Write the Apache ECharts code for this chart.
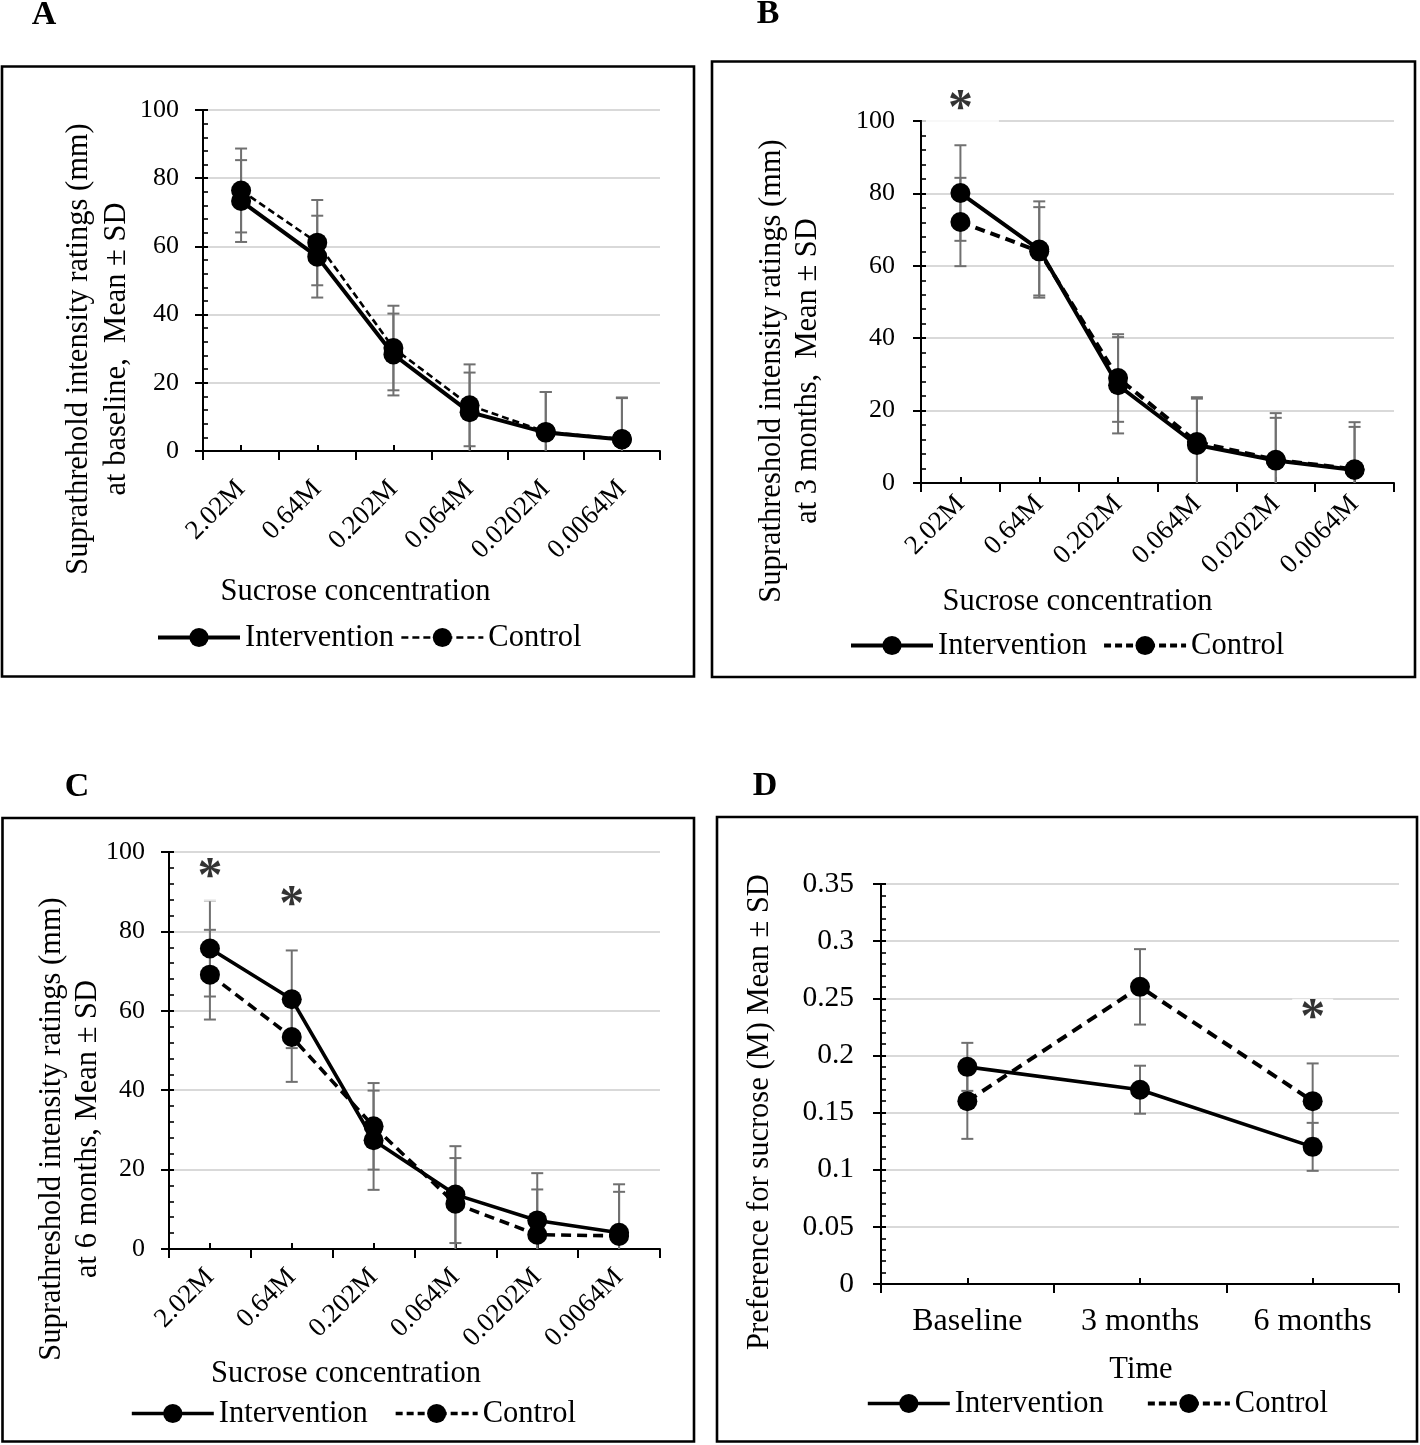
<!DOCTYPE html>
<html>
<head>
<meta charset="utf-8">
<script src="https://cdn.jsdelivr.net/npm/echarts@6/dist/echarts.min.js"></script>
<style>
html,body{margin:0;padding:0;background:#fff;}
#chart{width:1420px;height:1445px;}
</style>
</head>
<body>
<div id="chart"></div>
<script>
// ---------------- DATA ----------------
const concentrationLabels = ['2.02M', '0.64M', '0.202M', '0.064M', '0.0202M', '0.0064M'];
const timeLabels = ['Baseline', '3 months', '6 months'];
const seriesNames = ['Intervention', 'Control'];

// rating axis ticks (mm) and preference axis ticks (M)
const ratingTicks = { min: 0, max: 100, interval: 20 };
const preferenceTicks = { min: 0, max: 0.35, interval: 0.05 };

// A – baseline
const baselineIntervention   = [73.3, 57.0, 28.3, 11.4, 5.4, 3.4];
const baselineInterventionSD = [12.0, 12.0, 12.0, 11.6, 11.9, 12.3];
const baselineControl        = [76.4, 61.1, 30.2, 13.4, 5.6, 3.5];
const baselineControlSD      = [12.3, 12.5, 12.4, 12.0, 11.7, 12.0];

// B – 3 months
const month3Intervention   = [80.1, 64.5, 27.0, 10.5, 6.2, 3.6];
const month3InterventionSD = [13.2, 13.3, 13.3, 13.2, 13.1, 13.2];
const month3Control        = [72.1, 64.0, 29.0, 11.3, 6.4, 3.8];
const month3ControlSD      = [12.2, 12.2, 12.1, 12.0, 11.6, 11.7];
const month3Significance   = [[0, 103.0]];

// C – 6 months
const month6Intervention   = [75.7, 62.9, 27.4, 13.7, 7.2, 4.1];
const month6InterventionSD = [12.1, 12.3, 12.5, 12.2, 11.9, 12.2];
const month6Control        = [69.1, 53.4, 30.9, 11.4, 3.6, 3.3];
const month6ControlSD      = [11.3, 11.3, 10.9, 11.5, 11.4, 11.1];
const month6Significance   = [[0, 93.4], [1, 86.4]];

// D – preference for sucrose
const preferenceIntervention   = [0.19, 0.17, 0.12];
const preferenceInterventionSD = [0.021, 0.021, 0.021];
const preferenceControl        = [0.16, 0.26, 0.16];
const preferenceControlSD      = [0.033, 0.033, 0.033];
const preferenceSignificance   = [[2, 0.2322]];

// ---------------- LAYOUT / STYLE ----------------
const FONT = 'Liberation Serif';
const ERR = '#707070';
const GRIDLINE = '#d9d9d9';

const panels = [
  {
    letter: 'A', letterPos: [44, 15],
    box: [2, 66.5, 692, 610],
    grid: { left: 203, top: 110, width: 457, height: 341 },
    cats: concentrationLabels, ticks: ratingTicks,
    inter: baselineIntervention, interSD: baselineInterventionSD,
    ctrl: baselineControl, ctrlSD: baselineControlSD, sig: null,
    rotate: 45, xFont: 27, yFont: 26, yMargin: 24, xMargin: 34,
    solidW: 4, dashW: 2.6, dash: [7, 4],
    xTitle: 'Sucrose concentration', xTitlePos: [355.5, 592],
    yTitles: ['Suprathrehold intensity ratings (mm)', 'at baseline,  Mean \u00b1 SD'],
    yTitleX: [79, 117], yTitleY: 349,
    legend: { left: 156, cy: 637, gap: 6 }
  },
  {
    letter: 'B', letterPos: [768, 14],
    box: [712, 61.5, 703, 615.5],
    grid: { left: 921, top: 121, width: 473, height: 362 },
    cats: concentrationLabels, ticks: ratingTicks,
    inter: month3Intervention, interSD: month3InterventionSD,
    ctrl: month3Control, ctrlSD: month3ControlSD, sig: month3Significance,
    sigPad: [4, 26, 4, 26],
    rotate: 45, xFont: 27, yFont: 26, yMargin: 26, xMargin: 17,
    solidW: 4, dashW: 4, dash: [10, 6],
    xTitle: 'Sucrose concentration', xTitlePos: [1077.5, 602],
    yTitles: ['Suprathreshold intensity ratings (mm)', 'at 3 months,  Mean \u00b1 SD'],
    yTitleX: [772, 808], yTitleY: 371,
    legend: { left: 849, cy: 645, gap: 15 }
  },
  {
    letter: 'C', letterPos: [77, 787],
    box: [2.5, 818, 691.5, 623.5],
    grid: { left: 169, top: 852, width: 491, height: 397 },
    cats: concentrationLabels, ticks: ratingTicks,
    inter: month6Intervention, interSD: month6InterventionSD,
    ctrl: month6Control, ctrlSD: month6ControlSD, sig: month6Significance,
    sigPad: [12, 20, 0, 20],
    rotate: 45, xFont: 27, yFont: 26, yMargin: 24, xMargin: 24,
    solidW: 3.6, dashW: 3.6, dash: [10, 6],
    xTitle: 'Sucrose concentration', xTitlePos: [346, 1374],
    yTitles: ['Suprathreshold intensity ratings (mm)', 'at 6 months, Mean \u00b1 SD'],
    yTitleX: [52, 88], yTitleY: 1129,
    legend: { left: 130, cy: 1413, gap: 26 }
  },
  {
    letter: 'D', letterPos: [765, 786],
    box: [717, 817, 700, 624.5],
    grid: { left: 881, top: 884, width: 518, height: 400 },
    cats: timeLabels, ticks: preferenceTicks,
    inter: preferenceIntervention, interSD: preferenceInterventionSD,
    ctrl: preferenceControl, ctrlSD: preferenceControlSD, sig: preferenceSignificance,
    sigPad: [6, 8, 0, 8],
    rotate: 0, xFont: 32, yFont: 29.5, yMargin: 27, xMargin: 22,
    solidW: 3.6, dashW: 4, dash: [11, 7],
    xTitle: 'Time', xTitlePos: [1141, 1370],
    yTitles: ['Preference for sucrose (M) Mean \u00b1 SD'],
    yTitleX: [760], yTitleY: 1112,
    legend: { left: 866, cy: 1403, gap: 42 }
  }
];

// ---------------- BUILD ----------------
function errorBarRender(params, api) {
  const x = api.value(0), m = api.value(1), sd = api.value(2);
  const loRaw = m - sd;
  const lo = Math.max(loRaw, 0);
  const pHi = api.coord([x, m + sd]);
  const pLo = api.coord([x, lo]);
  const cw = 6;
  const style = { stroke: ERR, lineWidth: 2, fill: null };
  const children = [
    { type: 'line', shape: { x1: pHi[0], y1: pHi[1], x2: pLo[0], y2: pLo[1] }, style: style },
    { type: 'line', shape: { x1: pHi[0] - cw, y1: pHi[1], x2: pHi[0] + cw, y2: pHi[1] }, style: style }
  ];
  if (loRaw > 0) {
    children.push({ type: 'line', shape: { x1: pLo[0] - cw, y1: pLo[1], x2: pLo[0] + cw, y2: pLo[1] }, style: style });
  }
  return { type: 'group', children: children };
}

const grids = [], xAxes = [], yAxes = [], series = [], legends = [], graphics = [];
const blackLine = { color: '#000', width: 2 };

panels.forEach(function (p, i) {
  grids.push(Object.assign({ containLabel: false, outerBoundsMode: 'none' }, p.grid));
  // main category axis: boundary ticks outside
  xAxes.push({
    type: 'category', gridIndex: i, data: p.cats, boundaryGap: true, position: 'bottom',
    axisLine: { show: true, onZero: false, lineStyle: blackLine },
    axisTick: { show: true, inside: false, length: 9, interval: 0, lineStyle: blackLine },
    axisLabel: { interval: 0, rotate: p.rotate, margin: p.xMargin, fontSize: p.xFont, fontFamily: FONT, color: '#000' },
    splitLine: { show: false }
  });
  // overlay axis: ticks at category centres, inside
  xAxes.push({
    type: 'category', gridIndex: i, data: p.cats, boundaryGap: true, position: 'bottom',
    axisLine: { show: false, onZero: false },
    axisTick: { show: true, inside: true, alignWithLabel: true, length: 6, interval: 0, lineStyle: blackLine },
    axisLabel: { show: false, interval: 0 },
    splitLine: { show: false }
  });
  // main value axis
  yAxes.push({
    type: 'value', gridIndex: i, position: 'left',
    min: p.ticks.min, max: p.ticks.max, interval: p.ticks.interval,
    axisLine: { show: true, lineStyle: blackLine },
    axisTick: { show: true, inside: true, length: 5, lineStyle: blackLine },
    minorTick: { show: true, splitNumber: 5, length: 5, lineStyle: { color: '#000', width: 1.6 } },
    axisLabel: { margin: p.yMargin, fontSize: p.yFont, fontFamily: FONT, color: '#000' },
    splitLine: { show: true, lineStyle: { color: GRIDLINE, width: 2 } }
  });
  // overlay value axis: major ticks outside
  yAxes.push({
    type: 'value', gridIndex: i, position: 'left',
    min: p.ticks.min, max: p.ticks.max, interval: p.ticks.interval,
    axisLine: { show: false },
    axisTick: { show: true, inside: false, length: 8, lineStyle: blackLine },
    axisLabel: { show: false },
    splitLine: { show: false }
  });

  const xi = 2 * i, yi = 2 * i;
  const errData = function (vals, sds) { return vals.map(function (v, k) { return [k, v, sds[k]]; }); };
  series.push({
    type: 'custom', name: 'Intervention SD', xAxisIndex: xi, yAxisIndex: yi,
    data: errData(p.inter, p.interSD), renderItem: errorBarRender, clip: false, z: 2, silent: true,
    encode: { x: 0, y: 1 }
  });
  series.push({
    type: 'custom', name: 'Control SD', xAxisIndex: xi, yAxisIndex: yi,
    data: errData(p.ctrl, p.ctrlSD), renderItem: errorBarRender, clip: false, z: 2, silent: true,
    encode: { x: 0, y: 1 }
  });
  series.push({
    type: 'line', name: seriesNames[0], xAxisIndex: xi, yAxisIndex: yi, data: p.inter,
    symbol: 'circle', symbolSize: 20, showSymbol: true, z: 4,
    itemStyle: { color: '#000' },
    lineStyle: { color: '#000', width: p.solidW, type: 'solid' },
    emphasis: { disabled: true }
  });
  series.push({
    type: 'line', name: seriesNames[1], xAxisIndex: xi, yAxisIndex: yi, data: p.ctrl,
    symbol: 'circle', symbolSize: 20, showSymbol: true, z: 3,
    itemStyle: { color: '#000' },
    lineStyle: { color: '#000', width: p.dashW, type: p.dash },
    emphasis: { disabled: true }
  });
  if (p.sig) {
    series.push({
      type: 'scatter', name: 'significance ' + p.letter, xAxisIndex: xi, yAxisIndex: yi, data: p.sig,
      symbolSize: 1, itemStyle: { color: 'rgba(0,0,0,0)' }, silent: true, z: 6, clip: false,
      label: {
        show: true, position: 'inside', formatter: '*', fontSize: 50, fontWeight: 'bold', fontFamily: FONT,
        color: '#000', backgroundColor: '#fff', padding: p.sigPad, lineHeight: 34
      },
      emphasis: { disabled: true }
    });
  }

  legends.push({
    left: p.legend.left, top: p.legend.cy - 15, padding: 0, orient: 'horizontal',
    itemWidth: 82, itemHeight: 24, itemGap: p.legend.gap, selectedMode: false,
    textStyle: { fontSize: 30.5, fontFamily: FONT, color: '#000' },
    data: [
      { name: seriesNames[0], lineStyle: { width: p.solidW } },
      { name: seriesNames[1], lineStyle: { width: p.dashW } }
    ]
  });

  // frame
  graphics.push({
    type: 'rect', shape: { x: p.box[0], y: p.box[1], width: p.box[2], height: p.box[3] },
    style: { fill: 'none', stroke: '#000', lineWidth: 2.6 }, silent: true, z: 100
  });
  // panel letter
  graphics.push({
    type: 'text', x: p.letterPos[0], y: p.letterPos[1], silent: true,
    style: { text: p.letter, font: 'bold 34px "' + FONT + '"', fill: '#000', align: 'center', verticalAlign: 'middle' }
  });
  // x-axis title
  graphics.push({
    type: 'text', x: p.xTitlePos[0], y: p.xTitlePos[1], silent: true,
    style: { text: p.xTitle, font: '30.5px "' + FONT + '"', fill: '#000', align: 'center', verticalAlign: 'middle' }
  });
  // y-axis title lines
  p.yTitles.forEach(function (t, k) {
    graphics.push({
      type: 'text', x: p.yTitleX[k], y: p.yTitleY, rotation: Math.PI / 2, silent: true,
      style: { text: t, font: '30.5px "' + FONT + '"', fill: '#000', align: 'center', verticalAlign: 'middle' }
    });
  });
});

const chart = echarts.init(document.getElementById('chart'), null, { renderer: 'canvas', width: 1420, height: 1445 });
chart.setOption({
  backgroundColor: '#fff',
  animation: false,
  textStyle: { fontFamily: FONT },
  grid: grids,
  xAxis: xAxes,
  yAxis: yAxes,
  legend: legends,
  series: series,
  graphic: graphics
});
</script>
</body>
</html>
